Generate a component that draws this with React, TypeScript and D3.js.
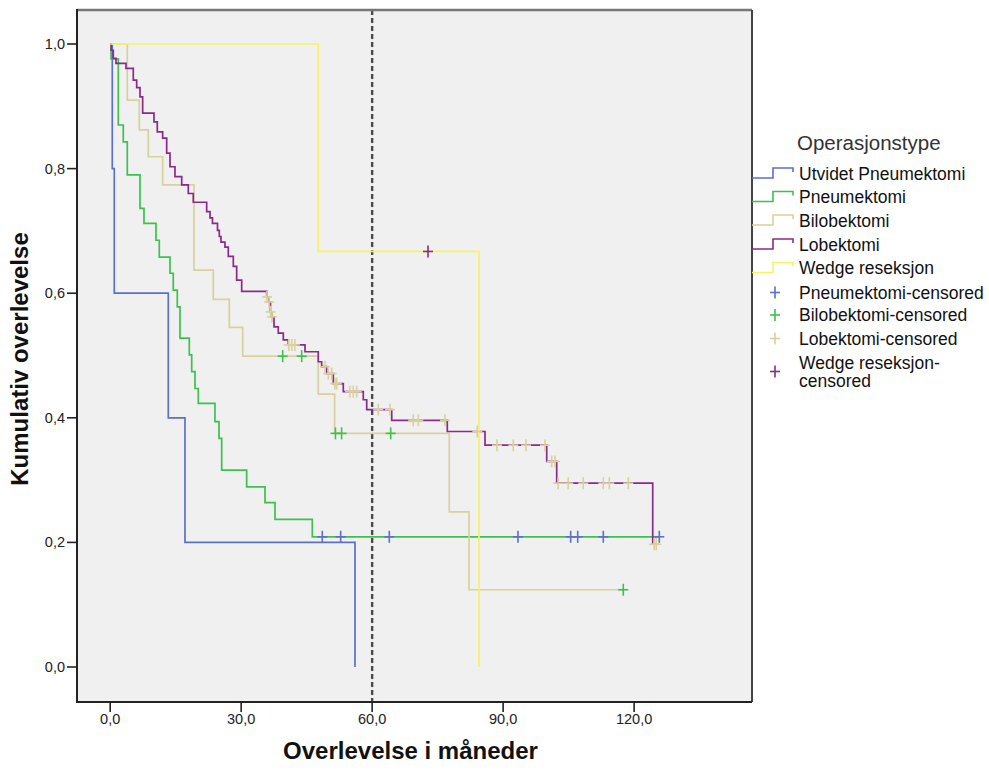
import React, { useEffect } from "react";
import * as d3 from "d3";

const W = 989;
const H = 771;

// ---- Data ----
const utvidetTimes = [0, 0.48, 0.94, 13.31, 17.13, 56.07];
const utvidetSurv = [1, 0.8, 0.6, 0.4, 0.2, 0.0];
const utvidetEnd = 56.07;

const pneumTimes = [0, 0.2, 1.86, 3.0, 3.92, 6.83, 7.74, 10.49, 11.25, 13.7, 14.45, 15.37, 15.99, 18.12, 18.67, 19.42, 20.18, 24.0, 24.92, 25.54, 31.26, 35.46, 37.75, 46.29];
const pneumSurv = [1, 0.976, 0.87, 0.843, 0.79, 0.736, 0.712, 0.685, 0.658, 0.632, 0.605, 0.578, 0.528, 0.501, 0.474, 0.447, 0.423, 0.394, 0.367, 0.316, 0.289, 0.264, 0.237, 0.209];
const pneumEnd = 125.77;
const pneumCensored = [48.58, 52.79, 63.93, 93.4, 105.47, 107.08, 112.94, 125.77];

const bilobTimes = [0, 3.92, 6.67, 8.73, 12.02, 19.19, 23.61, 27.28, 30.35, 47.66, 51.4, 77.67, 82.18];
const bilobSurv = [1, 0.91, 0.862, 0.819, 0.774, 0.637, 0.59, 0.545, 0.499, 0.438, 0.375, 0.249, 0.124];
const bilobEnd = 117.52;
const bilobCensored = [39.51, 43.86, 51.6, 53.0, 64.25, 117.52];

const lobTimes = [0, 0.23, 0.71, 1.33, 3.62, 5.29, 6.07, 6.83, 7.44, 10.03, 10.79, 12.02, 12.94, 13.7, 14.84, 16.38, 17.89, 19.03, 22.1, 22.86, 23.43, 24.58, 24.99, 25.38, 26.29, 27.05, 28.2, 28.97, 30.12, 35.85, 36.37, 36.7, 37.0, 37.52, 38.5, 39.65, 40.79, 44.62, 47.66, 48.44, 49.59, 51.1, 53.39, 57.97, 58.75, 64.48, 77.21, 85.85, 99.98, 102.27, 124.26];
const lobSurv = [1, 0.99, 0.977, 0.969, 0.961, 0.942, 0.93, 0.915, 0.889, 0.875, 0.859, 0.849, 0.825, 0.803, 0.787, 0.774, 0.76, 0.746, 0.731, 0.721, 0.712, 0.701, 0.691, 0.682, 0.674, 0.659, 0.643, 0.621, 0.603, 0.594, 0.586, 0.57, 0.562, 0.546, 0.536, 0.525, 0.517, 0.506, 0.49, 0.482, 0.471, 0.455, 0.442, 0.429, 0.413, 0.396, 0.378, 0.356, 0.33, 0.295, 0.197];
const lobEnd = 125.06;
const lobCensored = [35.9, 36.4, 36.75, 37.05, 40.9, 41.6, 42.3, 49.2, 49.96, 50.73, 51.49, 51.88, 54.92, 55.68, 56.46, 61.41, 64.09, 69.42, 70.57, 76.68, 84.08, 88.58, 92.33, 95.24, 99.59, 101.12, 101.88, 102.6, 104.9, 108.35, 112.94, 114.32, 118.67, 124.6, 125.06];

const wedgeTimes = [0, 47.66, 84.47];
const wedgeSurv = [1, 0.667, 0.0];
const wedgeEnd = 84.47;
const wedgeCensored = [72.79];

const xTicks = [0, 30, 60, 90, 120];
const yTicks = [0, 0.2, 0.4, 0.6, 0.8, 1.0];
const referenceLine = 60;

const legendLines = ["Utvidet Pneumektomi", "Pneumektomi", "Bilobektomi", "Lobektomi", "Wedge reseksjon"];
const legendCensored = ["Pneumektomi-censored", "Bilobektomi-censored", "Lobektomi-censored", "Wedge reseksjon-censored"];

const COLORS = {
  blue: "#5a72c6",
  green: "#3cc24c",
  tan: "#d8d19c",
  purple: "#8a2a8a",
  yellow: "#f6f266",
};

const FONT = "Arial, 'Liberation Sans', sans-serif";

function survAt(times: number[], surv: number[], t: number) {
  let s = surv[0];
  for (let i = 0; i < times.length; i++) {
    if (times[i] <= t) s = surv[i];
  }
  return s;
}

export default function App() {
  useEffect(() => {
    document.body.style.margin = "0";
  }, []);

  const x = d3.scaleLinear().domain([-7.6, 147]).range([77, 752]);
  const y = d3.scaleLinear().domain([0, 1]).range([667, 44]);
  const plotTop = 10;
  const plotBottom = 702;
  const plotLeft = 77;
  const plotRight = 752;

  const line = d3
    .line<[number, number]>()
    .x((d) => x(d[0]))
    .y((d) => y(d[1]))
    .curve(d3.curveStepAfter);

  const mk = (times: number[], surv: number[], end: number): [number, number][] => {
    const pts: [number, number][] = times.map((t, i) => [t, surv[i]]);
    pts.push([end, surv[surv.length - 1]]);
    return pts;
  };

  const series = [
    { pts: mk(utvidetTimes, utvidetSurv, utvidetEnd), color: COLORS.blue },
    { pts: mk(pneumTimes, pneumSurv, pneumEnd), color: COLORS.green },
    { pts: mk(bilobTimes, bilobSurv, bilobEnd), color: COLORS.tan },
    { pts: mk(lobTimes, lobSurv, lobEnd), color: COLORS.purple },
    { pts: mk(wedgeTimes, wedgeSurv, wedgeEnd), color: COLORS.yellow },
  ];

  const censors = [
    { ts: pneumCensored, times: pneumTimes, surv: pneumSurv, color: COLORS.blue },
    { ts: bilobCensored, times: bilobTimes, surv: bilobSurv, color: COLORS.green },
    { ts: lobCensored, times: lobTimes, surv: lobSurv, color: COLORS.tan },
    { ts: wedgeCensored, times: wedgeTimes, surv: wedgeSurv, color: COLORS.purple },
  ];

  const plus = (cx: number, cy: number, color: string, key: string) => (
    <g key={key} stroke={color} strokeWidth={1.6}>
      <line x1={cx - 5} x2={cx + 5} y1={cy} y2={cy} />
      <line x1={cx} x2={cx} y1={cy - 6} y2={cy + 6} />
    </g>
  );

  const lineColors = [COLORS.blue, COLORS.green, COLORS.tan, COLORS.purple, COLORS.yellow];
  const censColors = [COLORS.blue, COLORS.green, COLORS.tan, COLORS.purple];
  const legendLineY = [173.5, 197, 220.5, 244.5, 268];
  const legendCensY = [292.5, 315, 338.5, 362.5];

  return (
    <svg width={W} height={H} style={{ display: "block" }} fontFamily={FONT}>
      <rect x={0} y={0} width={W} height={H} fill="#ffffff" />
      {/* plot background */}
      <rect x={plotLeft} y={plotTop} width={plotRight - plotLeft} height={plotBottom - plotTop} fill="#f0f0f0" />

      {/* reference line */}
      <line
        x1={x(referenceLine)}
        x2={x(referenceLine)}
        y1={plotTop}
        y2={plotBottom}
        stroke="#4a4a4a"
        strokeWidth={2.4}
        strokeDasharray="5,3"
      />

      {/* survival curves */}
      {series.map((s, i) => (
        <path key={i} d={line(s.pts) || ""} fill="none" stroke={s.color} strokeWidth={1.7} />
      ))}

      {/* censor marks */}
      {censors.map((c, i) =>
        c.ts.map((t, j) => plus(x(t), y(survAt(c.times, c.surv, t)), c.color, `c${i}-${j}`))
      )}

      {/* frame */}
      <line x1={plotLeft} x2={plotRight} y1={plotTop} y2={plotTop} stroke="#777" strokeWidth={2.5} />
      <line x1={plotRight} x2={plotRight} y1={plotTop} y2={plotBottom} stroke="#444" strokeWidth={2} />
      <line x1={plotLeft} x2={plotLeft} y1={plotTop - 1} y2={plotBottom + 1} stroke="#222" strokeWidth={2} />
      <line x1={plotLeft - 1} x2={plotRight} y1={plotBottom} y2={plotBottom} stroke="#222" strokeWidth={2} />

      {/* y axis ticks */}
      {yTicks.map((v) => (
        <g key={`y${v}`}>
          <line x1={plotLeft - 10} x2={plotLeft} y1={y(v)} y2={y(v)} stroke="#222" strokeWidth={1.6} />
          <text x={plotLeft - 12} y={y(v)} dy="0.35em" textAnchor="end" fontSize={14.5} fill="#222">
            {d3.format(".1f")(v).replace(".", ",")}
          </text>
        </g>
      ))}

      {/* x axis ticks */}
      {xTicks.map((v) => (
        <g key={`x${v}`}>
          <line x1={x(v)} x2={x(v)} y1={plotBottom} y2={plotBottom + 10} stroke="#222" strokeWidth={1.6} />
          <text x={x(v)} y={plotBottom + 22} textAnchor="middle" fontSize={14.5} fill="#222">
            {d3.format(".1f")(v).replace(".", ",")}
          </text>
        </g>
      ))}

      {/* axis titles */}
      <text x={(plotLeft + plotRight) / 2 - 4} y={759} textAnchor="middle" fontSize={24} fontWeight="bold" fill="#111">
        Overlevelse i måneder
      </text>
      <text
        transform={`translate(28, ${(plotTop + plotBottom) / 2 + 3}) rotate(-90)`}
        textAnchor="middle"
        fontSize={24}
        fontWeight="bold"
        fill="#111"
      >
        Kumulativ overlevelse
      </text>

      {/* legend */}
      <text x={797} y={150} fontSize={20.5} fill="#333">
        Operasjonstype
      </text>
      {legendLines.map((name, i) => {
        const cy = legendLineY[i];
        return (
          <g key={`ll${i}`}>
            <path
              d={`M${plotRight},${cy + 4.5}H${773}V${cy - 5.5}H${793}V${cy - 1.5}`}
              fill="none"
              stroke={lineColors[i]}
              strokeWidth={1.6}
            />
            <text x={799} y={cy} dy="0.36em" fontSize={17.5} fill="#111">
              {name}
            </text>
          </g>
        );
      })}
      {legendCensored.map((name, i) => {
        const cy = legendCensY[i];
        const parts = i === 3 ? ["Wedge reseksjon-", "censored"] : [name];
        return (
          <g key={`lc${i}`}>
            {plus(775, i === 3 ? cy + 9 : cy, censColors[i], `lp${i}`)}
            {parts.map((p, k) => (
              <text key={k} x={799} y={cy + k * 18.5} dy="0.36em" fontSize={17.5} fill="#111">
                {p}
              </text>
            ))}
          </g>
        );
      })}
    </svg>
  );
}
